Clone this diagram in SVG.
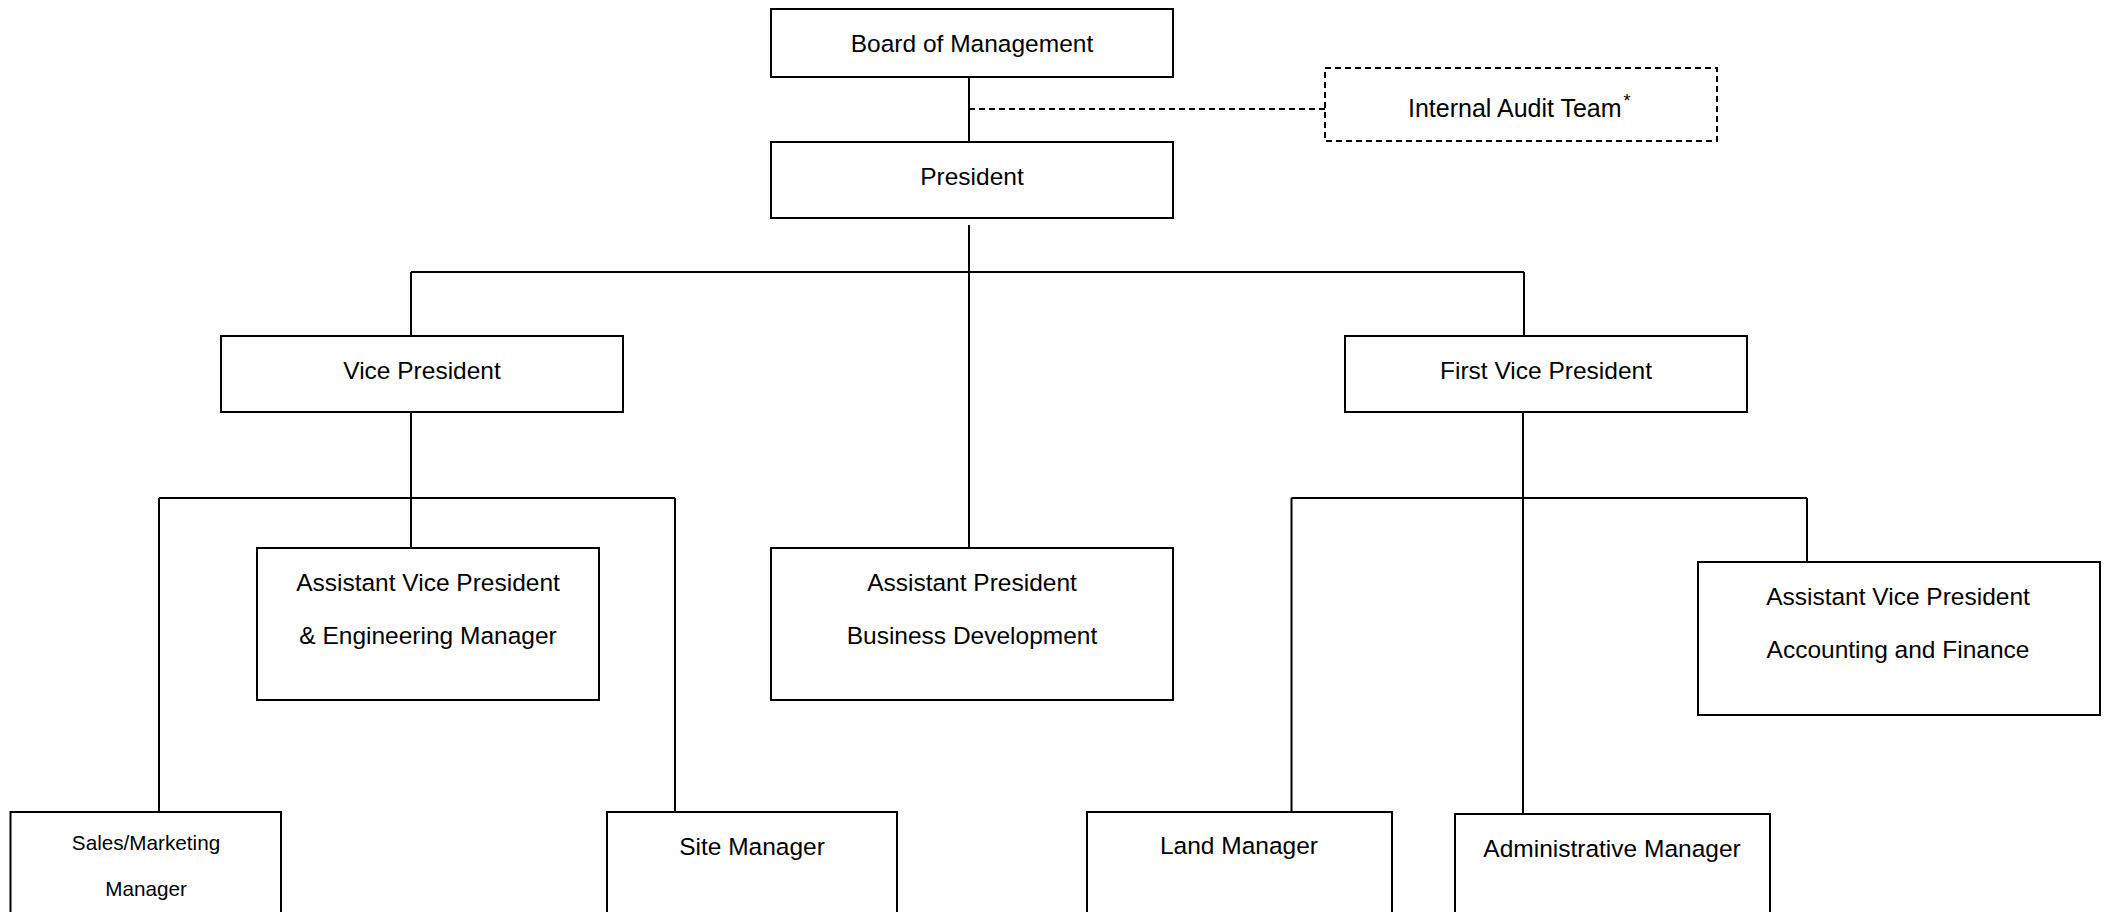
<svg xmlns="http://www.w3.org/2000/svg" width="2107" height="912" viewBox="0 0 2107 912">
<style>
.box{fill:#fff;stroke:#000;stroke-width:2}
.dbox{fill:#fff;stroke:#000;stroke-width:2;stroke-dasharray:6 4}
.ln{stroke:#000;stroke-width:2;fill:none}
.dl{stroke:#000;stroke-width:2;fill:none;stroke-dasharray:6 4}
text{font-family:"Liberation Sans",Arial,sans-serif;font-size:24.5px;fill:#000;text-anchor:middle}
.sm{font-size:20.7px}
</style>
<rect width="2107" height="912" fill="#fff"/>
<g id="connectors">
<line class="ln" x1="969" y1="77" x2="969" y2="142"/>
<line class="dl" x1="969" y1="109" x2="1325" y2="109"/>
<line class="ln" x1="969" y1="225" x2="969" y2="548"/>
<line class="ln" x1="411" y1="272" x2="1524" y2="272"/>
<line class="ln" x1="411" y1="272" x2="411" y2="336"/>
<line class="ln" x1="1524" y1="272" x2="1524" y2="336"/>
<line class="ln" x1="411" y1="412" x2="411" y2="548"/>
<line class="ln" x1="159" y1="498" x2="675" y2="498"/>
<line class="ln" x1="159" y1="498" x2="159" y2="812"/>
<line class="ln" x1="675" y1="498" x2="675" y2="812"/>
<line class="ln" x1="1523" y1="412" x2="1523" y2="814"/>
<line class="ln" x1="1291.5" y1="498" x2="1807" y2="498"/>
<line class="ln" x1="1291.5" y1="498" x2="1291.5" y2="812"/>
<line class="ln" x1="1807" y1="498" x2="1807" y2="562"/>
</g>
<g id="board"><rect class="box" x="771" y="9" width="402" height="68"/><text x="972" y="52">Board of Management</text></g>
<g id="audit"><rect class="dbox" x="1325" y="68" width="392" height="73"/><text x="1408" y="117" style="text-anchor:start;font-size:25px">Internal Audit Team<tspan dx="2" dy="-10" style="font-size:18px">*</tspan></text></g>
<g id="president"><rect class="box" x="771" y="142" width="402" height="76"/><text x="972" y="185">President</text></g>
<g id="vp"><rect class="box" x="221" y="336" width="402" height="76"/><text x="422" y="379">Vice President</text></g>
<g id="fvp"><rect class="box" x="1345" y="336" width="402" height="76"/><text x="1546" y="379">First Vice President</text></g>
<g id="avp-eng"><rect class="box" x="257" y="548" width="342" height="152"/><text x="428" y="591">Assistant Vice President</text><text x="428" y="644">&amp; Engineering Manager</text></g>
<g id="ap-bd"><rect class="box" x="771" y="548" width="402" height="152"/><text x="972" y="591">Assistant President</text><text x="972" y="644">Business Development</text></g>
<g id="avp-acc"><rect class="box" x="1698" y="562" width="402" height="153"/><text x="1898" y="605">Assistant Vice President</text><text x="1898" y="658">Accounting and Finance</text></g>
<g id="sales"><rect class="box" x="10.5" y="812" width="270.5" height="130"/><text class="sm" x="146" y="850">Sales/Marketing</text><text class="sm" x="146" y="896">Manager</text></g>
<g id="site"><rect class="box" x="607" y="812" width="290" height="130"/><text x="752" y="855">Site Manager</text></g>
<g id="land"><rect class="box" x="1087" y="812" width="305" height="130"/><text x="1239" y="854">Land Manager</text></g>
<g id="admin"><rect class="box" x="1455" y="814" width="315" height="130"/><text x="1612" y="857">Administrative Manager</text></g>
</svg>
